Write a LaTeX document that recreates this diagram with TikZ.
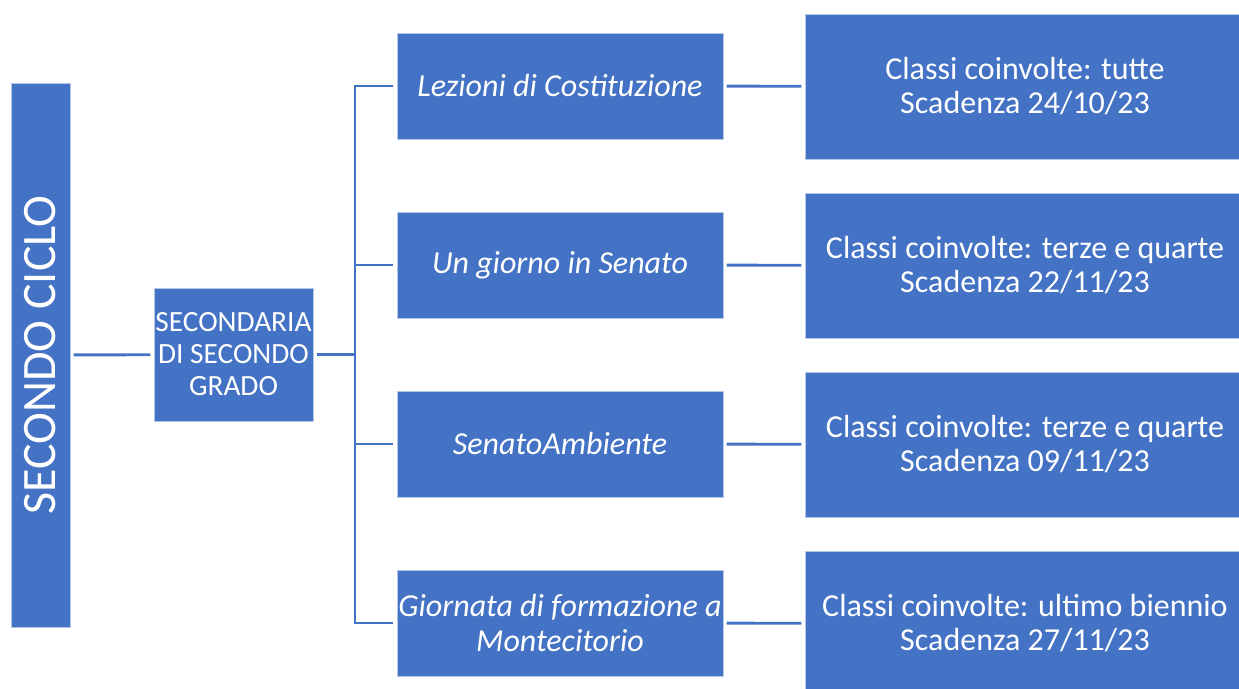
\documentclass[tikz,border=0pt]{standalone}
\usepackage{fontspec}
\setmainfont{Carlito}
\usetikzlibrary{positioning}
\definecolor{officeblue}{HTML}{4472C4}
\tikzset{
	box/.style={fill=officeblue,draw=white!60!officeblue,line width=0.4pt,rectangle,align=center,text=white,inner sep=0pt},
	title/.style={box,minimum width=59*0.75pt,minimum height=544*0.75pt,font=\fontsize{36}{40}\selectfont},
	level/.style={box,minimum width=159*0.75pt,minimum height=133*0.75pt,font=\fontsize{22}{24}\selectfont},
	event/.style={box,minimum width=326*0.75pt,minimum height=106*0.75pt,font=\fontsize{24}{25.5}\selectfont\itshape},
	info/.style={box,minimum width=440*0.75pt,minimum height=145*0.75pt,font=\fontsize{24}{25.5}\selectfont},
	link/.style={draw=officeblue,line width=2.2pt,shorten <=2.5pt,shorten >=2.5pt}
}
\begin{document}
\begin{tikzpicture}[x=0.75pt,y=-0.75pt]
			\useasboundingbox (0,0) rectangle (1239,689);
			\node[title] (ciclo) at (40.5,355) {\rotatebox{90}{SECONDO CICLO}};
			\node[level] (sec) at (233.5,354.5) {SECONDARIA\\DI SECONDO\\GRADO};
			\node[coordinate] (spine) at (355,354.5) {};
			
			\node[event] (lez) at (560,86) {Lezioni di Costituzione};
			\node[event] (sen) at (560,265) {Un giorno in Senato};
			\node[event] (amb) at (560,444) {SenatoAmbiente};
			\node[event] (mon) at (560,623) {Giornata di formazione a\\Montecitorio};
			
			\node[info] (lezinfo) at (1025,86.5) {Classi coinvolte: tutte\\Scadenza 24/10/23};
			\node[info] (seninfo) at (1025,265.5) {Classi coinvolte: terze e quarte\\Scadenza 22/11/23};
			\node[info] (ambinfo) at (1025,444.5) {Classi coinvolte: terze e quarte\\Scadenza 09/11/23};
			\node[info] (moninfo) at (1025,623.5) {Classi coinvolte: ultimo biennio\\Scadenza 27/11/23};
			
			\draw[link] (ciclo) -- (sec);
			\draw[link,shorten >=0pt] (sec) -- (spine);
			\foreach \n in {lez,sen,amb,mon}
				\draw[link,shorten <=0pt] (spine) |- (\n);
			\foreach \n in {lez,sen,amb,mon}
				\draw[link] (\n) -- (\n info);
		\end{tikzpicture}
\end{document}
